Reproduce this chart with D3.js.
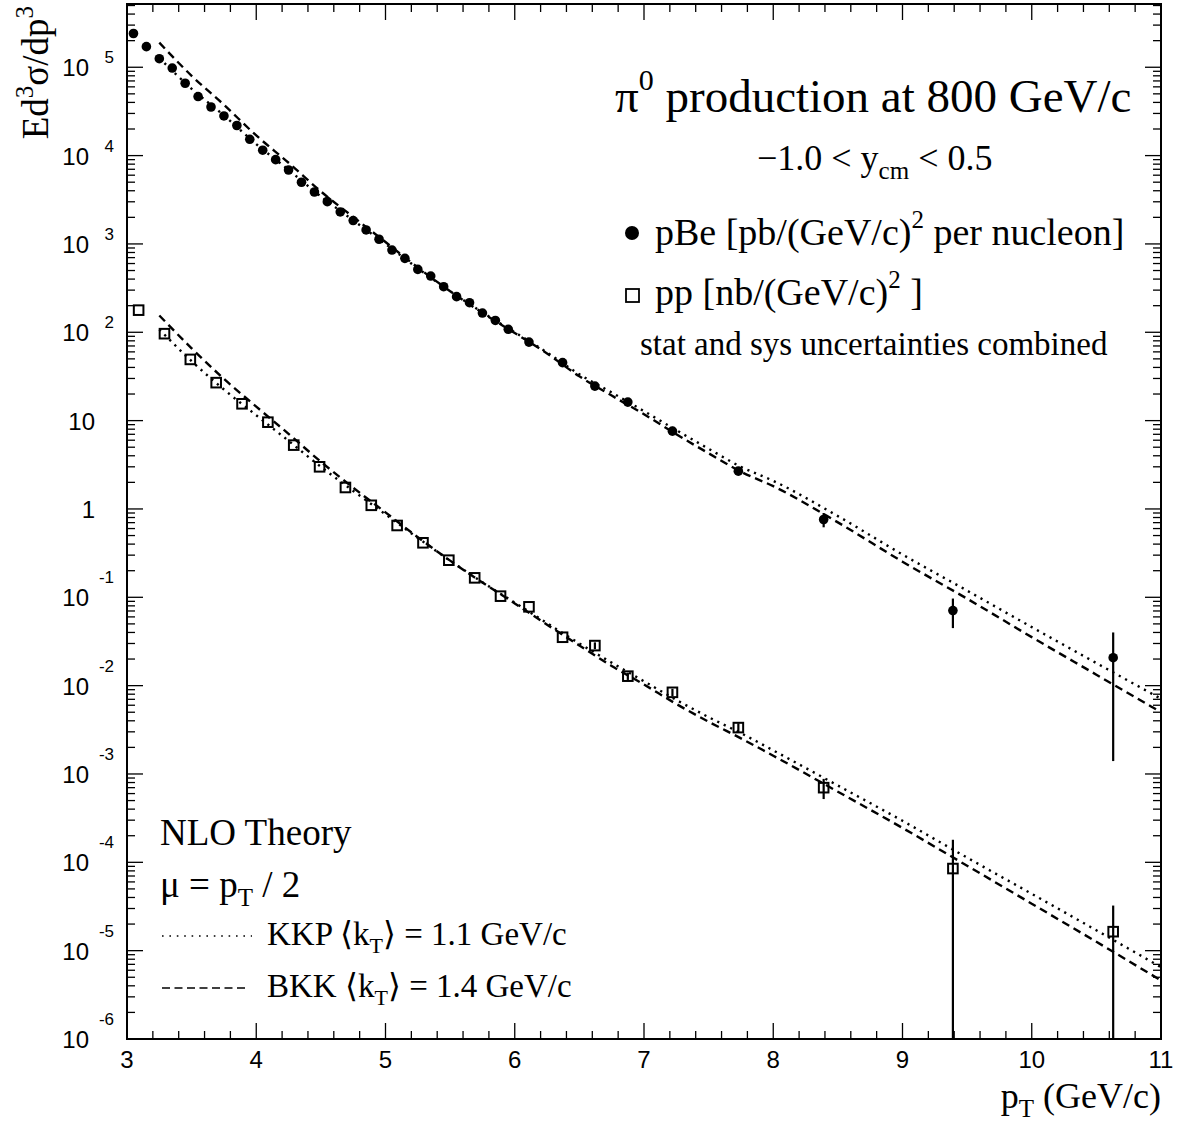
<!DOCTYPE html>
<html>
<head>
<meta charset="utf-8">
<script src="https://cdn.jsdelivr.net/npm/d3@7"></script>
<style>
  body { margin: 0; background: #fff; }
  .serif { font-family: "Liberation Serif", "Times New Roman", serif; }
  .sans  { font-family: "Liberation Sans", Arial, Helvetica, sans-serif; }
</style>
</head>
<body>
<div id="chart"></div>
<script>
// DATA: pi0 invariant cross sections
const pBeX = [3.05, 3.15, 3.25, 3.35, 3.45, 3.55, 3.65, 3.75, 3.85, 3.95,
              4.05, 4.15, 4.25, 4.35, 4.45, 4.55, 4.65, 4.75, 4.85, 4.95,
              5.05, 5.15, 5.25, 5.35, 5.45, 5.55, 5.65, 5.75, 5.85, 5.95,
              6.11, 6.37, 6.62, 6.875, 7.22, 7.73, 8.39, 9.39, 10.63];
const pBeY = [2.41e5, 1.71e5, 1.25e5, 9.8e4, 6.59e4, 4.66e4, 3.55e4, 2.81e4, 2.19e4, 1.53e4,
              1.15e4, 9.0e3, 6.87e3, 4.99e3, 3.87e3, 3.01e3, 2.30e3, 1.84e3, 1.44e3, 1.13e3,
              853, 687, 515, 433, 328, 253, 216, 165, 136, 108,
              77.4, 45.3, 24.6, 16.2, 7.6, 2.68, 0.76, 0.0708, 0.0207];
// only the errors that show outside the markers
const pBeErr = [0, 0, 0, 0, 0, 0, 0, 0, 0, 0,
                0, 0, 0, 0, 0, 0, 0, 0, 0, 0,
                0, 0, 0, 0, 0, 0, 0, 0, 0, 0,
                0, 0, 1.3, 0.9, 0.5, 0.25, 0.14, 0.026, 0.0193];

const ppX = [3.09, 3.29, 3.49, 3.69, 3.89, 4.09, 4.29, 4.49, 4.69, 4.89,
             5.09, 5.29, 5.49, 5.69, 5.89, 6.11, 6.37, 6.62, 6.875, 7.22,
             7.73, 8.39, 9.39, 10.63];
const ppY = [178, 96.4, 49.3, 26.9, 15.5, 9.6, 5.28, 3.0, 1.75, 1.10,
             0.65, 0.414, 0.263, 0.166, 0.103, 0.078, 0.0353, 0.0284, 0.0128, 0.0084,
             0.00335, 7.0e-4, 8.5e-5, 1.64e-5];
const ppErr = [0, 0, 0, 0, 0, 0, 0, 0, 0, 0,
               0, 0, 0, 0, 0, 0, 0, 0.0025, 0.0012, 0.0008,
               4.0e-4, 1.8e-4, 9.5e-5, 1.6e-5];

// NLO theory curves
const thX = [3.25, 3.5, 3.75, 4.0, 4.25, 4.5, 4.75, 5.0, 5.25, 5.5, 5.75, 6.0, 6.25,
             6.5, 6.75, 7.0, 7.25, 7.5, 7.75, 8.0, 8.5, 9.0, 9.5, 10.0, 10.5, 11.0];
const kkpPBe = [1.27e5, 5.7e4, 2.85e4, 1.35e4, 6.9e3, 3.45e3, 1.85e3, 1.0e3, 530, 292, 168, 100, 59,
                33.4, 20.8, 12.8, 7.8, 4.8, 3.0, 2.08, 0.83, 0.305, 0.119, 0.046, 0.018, 7.1e-3];
const bkkPBe = [1.9e5, 8.0e4, 3.76e4, 1.69e4, 8.3e3, 3.93e3, 2.02e3, 1.05e3, 541, 292, 166, 98, 57.5,
                31.7, 19.2, 11.8, 7.0, 4.27, 2.64, 1.81, 0.705, 0.253, 0.0964, 0.0354, 0.0133, 5.0e-3];
const kkpPP  = [108, 47, 22.5, 11.5, 5.9, 3.0, 1.6, 0.87, 0.47, 0.26, 0.148, 0.087, 0.051,
                0.030, 0.0182, 0.0112, 0.0069, 0.0044, 0.0029, 1.85e-3, 7.4e-4, 2.95e-4, 1.13e-4, 4.4e-5, 1.7e-5, 6.5e-6];
const bkkPP  = [155, 65.8, 29.7, 14.4, 7.08, 3.42, 1.74, 0.914, 0.479, 0.26, 0.147, 0.0853, 0.049,
                0.0285, 0.0167, 0.0103, 0.0062, 0.0039, 0.00253, 1.61e-3, 6.3e-4, 2.45e-4, 9.15e-5, 3.4e-5, 1.26e-5, 4.6e-6];

const xMajor = [3, 4, 5, 6, 7, 8, 9, 10, 11];
const yExp = [-6, -5, -4, -3, -2, -1, 0, 1, 2, 3, 4, 5];

// SETUP
const W = 1180, H = 1123;
const frame = { left: 127, top: 4, right: 1161, bottom: 1039 };

const svg = d3.select("#chart").append("svg")
    .attr("width", W).attr("height", H);

const x = d3.scaleLinear().domain([3, 11]).range([frame.left, frame.right]);
const y = d3.scaleLog().domain([1e-6, 5.2e5]).range([frame.bottom, frame.top]);

svg.append("clipPath").attr("id", "clip")
  .append("rect")
    .attr("x", frame.left).attr("y", frame.top)
    .attr("width", frame.right - frame.left).attr("height", frame.bottom - frame.top);

const plot = svg.append("g").attr("clip-path", "url(#clip)");

// THEORY CURVES
const line = d3.line()
    .x(d => x(d[0]))
    .y(d => y(d[1]))
    .curve(d3.curveMonotoneX);

const curves = [
  { v: bkkPBe, dash: "8,5" },
  { v: bkkPP,  dash: "8,5" },
  { v: kkpPBe, dash: "2.2,5" },
  { v: kkpPP,  dash: "2.2,5" }
];
curves.forEach(c => {
  plot.append("path")
      .datum(thX.map((t, i) => [t, c.v[i]]))
      .attr("d", line)
      .attr("fill", "none")
      .attr("stroke", "#000")
      .attr("stroke-width", 2.4)
      .attr("stroke-dasharray", c.dash);
});

// ERROR BARS
function errBars(xs, ys, es) {
  const d = xs.map((t, i) => ({ x: t, y: ys[i], e: es[i] })).filter(p => p.e > 0);
  plot.selectAll(null).data(d).enter().append("line")
      .attr("x1", p => x(p.x)).attr("x2", p => x(p.x))
      .attr("y1", p => y(p.y + p.e))
      .attr("y2", p => p.y - p.e > 1e-7 ? y(p.y - p.e) : frame.bottom + 5)
      .attr("stroke", "#000").attr("stroke-width", 2.2);
}
errBars(pBeX, pBeY, pBeErr);
errBars(ppX, ppY, ppErr);

// MARKERS
plot.selectAll(null).data(pBeX).enter().append("circle")
    .attr("cx", (t) => x(t))
    .attr("cy", (t, i) => y(pBeY[i]))
    .attr("r", 4.8)
    .attr("fill", "#000");

plot.selectAll(null).data(ppX).enter().append("rect")
    .attr("x", t => x(t) - 4.8)
    .attr("y", (t, i) => y(ppY[i]) - 4.8)
    .attr("width", 9.6).attr("height", 9.6)
    .attr("fill", "none")
    .attr("stroke", "#000").attr("stroke-width", 2);

// FRAME AND TICKS
const axes = svg.append("g").attr("stroke", "#000");
axes.append("rect")
    .attr("x", frame.left).attr("y", frame.top)
    .attr("width", frame.right - frame.left).attr("height", frame.bottom - frame.top)
    .attr("fill", "none").attr("stroke-width", 2);

// x ticks (major every 1, minor every 0.2) on bottom and top
const xMinor = d3.range(3, 11.001, 0.2).filter(t => Math.abs(t - Math.round(t)) > 1e-6);
xMajor.forEach(t => {
  axes.append("line").attr("x1", x(t)).attr("x2", x(t))
      .attr("y1", frame.bottom).attr("y2", frame.bottom - 16).attr("stroke-width", 1.3);
  axes.append("line").attr("x1", x(t)).attr("x2", x(t))
      .attr("y1", frame.top).attr("y2", frame.top + 16).attr("stroke-width", 1.3);
});
xMinor.forEach(t => {
  axes.append("line").attr("x1", x(t)).attr("x2", x(t))
      .attr("y1", frame.bottom).attr("y2", frame.bottom - 8).attr("stroke-width", 1.3);
  axes.append("line").attr("x1", x(t)).attr("x2", x(t))
      .attr("y1", frame.top).attr("y2", frame.top + 8).attr("stroke-width", 1.3);
});

// y ticks (log) on left and right
const yTicks = [];
for (let k = -6; k <= 5; k++) {
  for (let m = 1; m <= 9; m++) {
    const v = m * Math.pow(10, k);
    if (v <= y.domain()[1]) yTicks.push({ v, major: m === 1 });
  }
}
yTicks.forEach(t => {
  const len = t.major ? 16 : 8;
  axes.append("line").attr("x1", frame.left).attr("x2", frame.left + len)
      .attr("y1", y(t.v)).attr("y2", y(t.v)).attr("stroke-width", 1.3);
  axes.append("line").attr("x1", frame.right).attr("x2", frame.right - len)
      .attr("y1", y(t.v)).attr("y2", y(t.v)).attr("stroke-width", 1.3);
});

// TICK LABELS
svg.selectAll(null).data(xMajor).enter().append("text")
    .attr("class", "sans")
    .attr("x", t => x(t)).attr("y", frame.bottom + 29)
    .attr("text-anchor", "middle")
    .attr("font-size", 24)
    .text(t => t);

yExp.forEach(k => {
  const ty = y(Math.pow(10, k));
  if (k === 0 || k === 1) {
    svg.append("text").attr("class", "sans")
        .attr("x", 95).attr("y", ty + 9)
        .attr("text-anchor", "end").attr("font-size", 24)
        .text(k === 0 ? "1" : "10");
  } else {
    svg.append("text").attr("class", "sans")
        .attr("x", 89).attr("y", ty + 9)
        .attr("text-anchor", "end").attr("font-size", 24)
        .text("10");
    svg.append("text").attr("class", "sans")
        .attr("x", 114).attr("y", k < 0 ? ty - 14 : ty - 4)
        .attr("text-anchor", "end").attr("font-size", 17)
        .text(k);
  }
});

// AXIS TITLES
const yTitle = svg.append("text").attr("class", "serif")
    .attr("transform", "translate(48,6) rotate(-90)")
    .attr("text-anchor", "end")
    .attr("font-size", 37);
yTitle.append("tspan").text("Ed");
yTitle.append("tspan").attr("dy", -15).attr("font-size", 25).text("3");
yTitle.append("tspan").attr("dy", 15).text("\u03c3/dp");
yTitle.append("tspan").attr("dy", -15).attr("font-size", 25).text("3");

const xTitle = svg.append("text").attr("class", "serif")
    .attr("x", frame.right).attr("y", 1108)
    .attr("text-anchor", "end")
    .attr("font-size", 36);
xTitle.append("tspan").text("p");
xTitle.append("tspan").attr("dy", 9).attr("font-size", 25).text("T");
xTitle.append("tspan").attr("dy", -9).text(" (GeV/c)");

// HEADER TEXT AND LEGEND (top right)
const title = svg.append("text").attr("class", "serif")
    .attr("x", 615).attr("y", 112).attr("font-size", 47);
title.append("tspan").text("\u03c0");
title.append("tspan").attr("dy", -22).attr("font-size", 30).text("0");
title.append("tspan").attr("dy", 22).text(" production at 800 GeV/c");

const rap = svg.append("text").attr("class", "serif")
    .attr("x", 757).attr("y", 170).attr("font-size", 36);
rap.append("tspan").text("\u22121.0 < y");
rap.append("tspan").attr("dy", 9).attr("font-size", 25).text("cm");
rap.append("tspan").attr("dy", -9).text(" < 0.5");

svg.append("circle").attr("cx", 632).attr("cy", 233).attr("r", 7).attr("fill", "#000");
const lg1 = svg.append("text").attr("class", "serif")
    .attr("x", 655).attr("y", 245).attr("font-size", 38);
lg1.append("tspan").text("pBe [pb/(GeV/c)");
lg1.append("tspan").attr("dy", -17).attr("font-size", 25).text("2");
lg1.append("tspan").attr("dy", 17).text(" per nucleon]");

svg.append("rect").attr("x", 626).attr("y", 289).attr("width", 13).attr("height", 13)
    .attr("fill", "none").attr("stroke", "#000").attr("stroke-width", 1.8);
const lg2 = svg.append("text").attr("class", "serif")
    .attr("x", 655).attr("y", 305).attr("font-size", 38);
lg2.append("tspan").text("pp [nb/(GeV/c)");
lg2.append("tspan").attr("dy", -17).attr("font-size", 25).text("2");
lg2.append("tspan").attr("dy", 17).text("  ]");

svg.append("text").attr("class", "serif")
    .attr("x", 640).attr("y", 355).attr("font-size", 33)
    .text("stat and sys uncertainties combined");

// THEORY LEGEND (bottom left)
svg.append("text").attr("class", "serif")
    .attr("x", 160).attr("y", 845).attr("font-size", 37).text("NLO Theory");

const mu = svg.append("text").attr("class", "serif")
    .attr("x", 160).attr("y", 897).attr("font-size", 37);
mu.append("tspan").text("\u03bc = p");
mu.append("tspan").attr("dy", 9).attr("font-size", 25).text("T");
mu.append("tspan").attr("dy", -9).text(" / 2");

svg.append("line").attr("x1", 162).attr("x2", 252).attr("y1", 936).attr("y2", 936)
    .attr("stroke", "#000").attr("stroke-width", 1.6).attr("stroke-dasharray", "1.6,5.8");
svg.append("line").attr("x1", 162).attr("x2", 248).attr("y1", 988).attr("y2", 988)
    .attr("stroke", "#000").attr("stroke-width", 1.6).attr("stroke-dasharray", "8,4.5");

function kLabel(yy, pdf, val) {
  const t = svg.append("text").attr("class", "serif")
      .attr("x", 267).attr("y", yy).attr("font-size", 33);
  t.append("tspan").text(pdf + " \u27e8k");
  t.append("tspan").attr("dy", 8).attr("font-size", 22).text("T");
  t.append("tspan").attr("dy", -8).text("\u27e9 = " + val + " GeV/c");
}
kLabel(945, "KKP", "1.1");
kLabel(997, "BKK", "1.4");
</script>
</body>
</html>
